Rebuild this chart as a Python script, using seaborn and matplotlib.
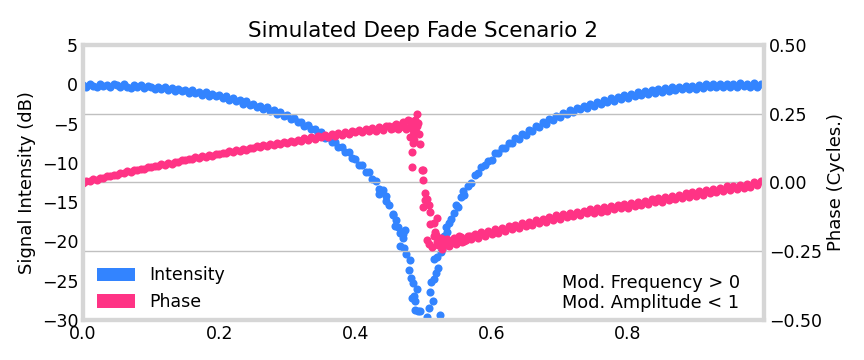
import numpy as np
import pandas as pd
import matplotlib
matplotlib.use("Agg")
import matplotlib.pyplot as plt
from matplotlib.patches import Patch
import seaborn as sns

# ---------------- data ----------------
# regular sampling grid, step 0.005 from 0 to 0.995
x_grid = np.round(np.arange(200) * 0.005, 3)

intensity_db = [
    -0.10, -0.35, 0.10, -0.20, -0.30, 0.05, -0.25, -0.05, -0.35, 0.00,
    -0.15, -0.40, 0.00, -0.30, -0.45, -0.05, -0.35, -0.15, -0.50, -0.20,
    -0.30, -0.60, -0.30, -0.65, -0.35, -0.75, -0.45, -0.90, -0.55, -0.85,
    -0.70, -1.05, -0.75, -1.15, -0.95, -1.30, -1.00, -1.45, -1.20, -1.55,
    -1.35, -1.75, -1.55, -2.00, -1.70, -2.15, -1.95, -2.45, -2.15, -2.65,
    -2.45, -2.90, -2.70, -3.15, -2.95, -3.45, -3.25, -3.75, -3.55, -4.05,
    -3.95, -4.45, -4.35, -4.85, -4.75, -5.25, -5.20, -5.65, -5.65, -6.20,
    -6.10, -6.80, -6.70, -7.35, -7.30, -7.95, -7.95, -8.60, -8.60, -9.40,
    -9.50, -10.30, -10.30, -11.10, -11.20, -12.00, -12.30, -13.30, -13.50, -14.80,
    -15.30, -16.60, -17.30, -18.90, -19.50, -21.60, -22.40, -25.30, -26.10, -28.80,
    -31.50, -29.60, -26.40, -24.80, -22.00, -21.30, -19.30, -18.80, -17.20, -16.40,
    -15.60, -14.40, -14.10, -13.00, -12.60, -11.60, -11.30, -10.50, -10.30, -9.70,
    -9.60, -8.80, -8.80, -8.10, -8.10, -7.50, -7.50, -6.80, -6.90, -6.30,
    -6.40, -5.80, -5.90, -5.30, -5.40, -4.80, -5.00, -4.40, -4.60, -4.00,
    -4.20, -3.60, -3.80, -3.30, -3.50, -3.00, -3.20, -2.70, -3.00, -2.50,
    -2.80, -2.30, -2.50, -2.00, -2.30, -1.80, -2.10, -1.60, -1.90, -1.40,
    -1.70, -1.20, -1.50, -1.00, -1.30, -0.90, -1.20, -0.70, -1.05, -0.65,
    -0.95, -0.50, -0.85, -0.40, -0.75, -0.30, -0.65, -0.25, -0.60, -0.20,
    -0.55, -0.10, -0.45, 0.00, -0.40, 0.05, -0.35, 0.00, -0.40, 0.10,
    -0.35, 0.10, -0.30, 0.15, -0.25, 0.05, -0.35, 0.15, -0.30, 0.05,
]

phase_cycles = [
    -0.002, 0.007, 0.004, 0.011, 0.010, 0.017, 0.016, 0.022, 0.022, 0.029,
    0.028, 0.034, 0.034, 0.040, 0.039, 0.045, 0.044, 0.050, 0.049, 0.055,
    0.055, 0.061, 0.059, 0.066, 0.064, 0.071, 0.068, 0.076, 0.073, 0.081,
    0.080, 0.086, 0.084, 0.091, 0.088, 0.096, 0.092, 0.100, 0.097, 0.105,
    0.103, 0.109, 0.106, 0.113, 0.110, 0.118, 0.114, 0.122, 0.118, 0.127,
    0.125, 0.131, 0.128, 0.136, 0.131, 0.140, 0.135, 0.144, 0.139, 0.148,
    0.145, 0.152, 0.148, 0.156, 0.151, 0.161, 0.155, 0.164, 0.159, 0.168,
    0.164, 0.172, 0.166, 0.176, 0.170, 0.180, 0.173, 0.183, 0.177, 0.187,
    0.182, 0.190, 0.184, 0.195, 0.186, 0.199, 0.188, 0.203, 0.191, 0.206,
    0.207, 0.198, 0.214, 0.200, 0.220, 0.195, 0.223, 0.172, 0.205, 0.140,
    0.045, -0.060, -0.150, -0.195, -0.215, -0.200, -0.222, -0.205, -0.220, -0.203,
    -0.216, -0.198, -0.212, -0.193, -0.206, -0.187, -0.200, -0.181, -0.193, -0.175,
    -0.187, -0.169, -0.182, -0.164, -0.176, -0.158, -0.170, -0.153, -0.164, -0.147,
    -0.159, -0.142, -0.154, -0.137, -0.148, -0.131, -0.142, -0.126, -0.136, -0.120,
    -0.132, -0.116, -0.127, -0.112, -0.122, -0.107, -0.117, -0.102, -0.112, -0.097,
    -0.110, -0.094, -0.106, -0.090, -0.102, -0.086, -0.097, -0.081, -0.093, -0.077,
    -0.091, -0.075, -0.087, -0.071, -0.082, -0.066, -0.077, -0.061, -0.072, -0.056,
    -0.070, -0.054, -0.065, -0.049, -0.061, -0.045, -0.056, -0.040, -0.051, -0.035,
    -0.048, -0.032, -0.044, -0.028, -0.039, -0.024, -0.035, -0.019, -0.030, -0.014,
    -0.028, -0.012, -0.024, -0.008, -0.019, -0.004, -0.015, 0.001, -0.010, 0.005,
]

# extra scattered samples around the deep fade
fade_x_int = [0.435, 0.455, 0.462, 0.470, 0.472, 0.473, 0.478, 0.482, 0.483, 0.486,
              0.488, 0.488, 0.492, 0.497, 0.508, 0.511, 0.514, 0.516, 0.519, 0.522,
              0.524, 0.527, 0.533, 0.538, 0.548, 0.558, 0.445, 0.458, 0.466]
fade_intensity = [-14.0, -16.5, -18.2, -19.0, -20.8, -18.5, -23.6, -24.6, -27.2, -26.9,
                  -27.6, -28.7, -28.9, -30.3, -28.5, -25.2, -27.6, -22.2, -24.0, -23.4,
                  -29.4, -21.0, -18.2, -17.6, -15.4, -13.6, -14.2, -18.0, -20.6]

fade_x_ph = [0.452, 0.458, 0.463, 0.468, 0.472, 0.477, 0.480, 0.482, 0.484, 0.486,
             0.487, 0.489, 0.491, 0.492, 0.494,
             0.485, 0.483, 0.483, 0.498, 0.499, 0.502, 0.502, 0.499, 0.510, 0.520,
             0.508, 0.515, 0.517,
             0.505, 0.508, 0.512, 0.518, 0.522, 0.527, 0.532, 0.537, 0.542, 0.548,
             0.552, 0.557, 0.563, 0.568]
fade_phase = [0.196, 0.210, 0.193, 0.214, 0.205, 0.226, 0.165, 0.208, 0.190, 0.155,
              0.228, 0.183, 0.250, 0.215, 0.175,
              0.144, 0.110, 0.056, 0.045, 0.010, -0.040, -0.064, -0.090, -0.107, -0.130,
              -0.082, -0.147, -0.180,
              -0.210, -0.225, -0.235, -0.190, -0.228, -0.240, -0.210, -0.232, -0.215, -0.225,
              -0.195, -0.218, -0.210, -0.195]

left_ticks = [5, 0, -5, -10, -15, -20, -25, -30]
right_ticks = [0.50, 0.25, 0.00, -0.25, -0.50]
x_ticks = [0.0, 0.2, 0.4, 0.6, 0.8]

series_names = ["Intensity", "Phase"]
# ----------------------------------------------------------------

BLUE = "#3384ff"
PINK = "#ff3385"
FRAME = "#d6d6d6"

sns.set_theme(style="white")
plt.rcParams["font.family"] = ["DejaVu Sans"]
for key in ("text.color", "axes.labelcolor", "xtick.color", "ytick.color"):
    plt.rcParams[key] = "black"

df_int = pd.DataFrame({
    "x": list(x_grid) + fade_x_int,
    "v": intensity_db + fade_intensity,
})
df_ph = pd.DataFrame({
    "x": list(x_grid) + fade_x_ph,
    "v": phase_cycles + fade_phase,
})

fig = plt.figure(figsize=(8.64, 3.6), dpi=100)
ax = fig.add_axes([83 / 864, 40 / 360, 681 / 864, 275 / 360])
ax2 = ax.twinx()

sns.scatterplot(data=df_int, x="x", y="v", ax=ax, color=BLUE, s=34,
                linewidth=0, legend=False)
sns.scatterplot(data=df_ph, x="x", y="v", ax=ax2, color=PINK, s=34,
                linewidth=0, legend=False)

ax.set_xlim(0, 1)
ax.set_ylim(-30, 5)
ax2.set_ylim(-0.5, 0.5)
ax.set_xticks(x_ticks)
ax.set_xticklabels([f"{t:.1f}" for t in x_ticks])
ax.set_yticks(left_ticks)
ax.set_yticklabels([f"{t:d}".replace("-", "\u2212") for t in left_ticks])
ax2.set_yticks(right_ticks)
ax2.set_yticklabels([f"{t:.2f}".replace("-", "\u2212") for t in right_ticks])

ax.set_xlabel("")
ax.set_ylabel("Signal Intensity (dB)", fontsize=13)
ax2.set_ylabel("Phase (Cycles.)", fontsize=13)
ax.set_title("Simulated Deep Fade Scenario 2", fontsize=15.5, pad=6)

ax.grid(False)
ax2.grid(True, axis="y", color="#c0c0c0", linewidth=1.0)
ax2.set_axisbelow(True)
ax2.xaxis.grid(False)

for a in (ax, ax2):
    a.tick_params(axis="both", length=0, labelsize=12.5, pad=3.5, colors="black")
    for sp in a.spines.values():
        sp.set_color(FRAME)
        sp.set_linewidth(3)
        sp.set_visible(True)

handles = [Patch(facecolor=BLUE, edgecolor="none", label=series_names[0]),
           Patch(facecolor=PINK, edgecolor="none", label=series_names[1])]
ax2.legend(handles=handles, loc="lower left", frameon=False, fontsize=12.5,
           handlelength=2.2, handleheight=0.8, borderaxespad=0.4,
           bbox_to_anchor=(0, -0.018))

ax2.text(0.703, 0.03, "Mod. Frequency > 0\nMod. Amplitude < 1",
         transform=ax.transAxes, ha="left", va="bottom", fontsize=12.8,
         linespacing=1.15, color="black")

fig.savefig("out.png", dpi=100)
